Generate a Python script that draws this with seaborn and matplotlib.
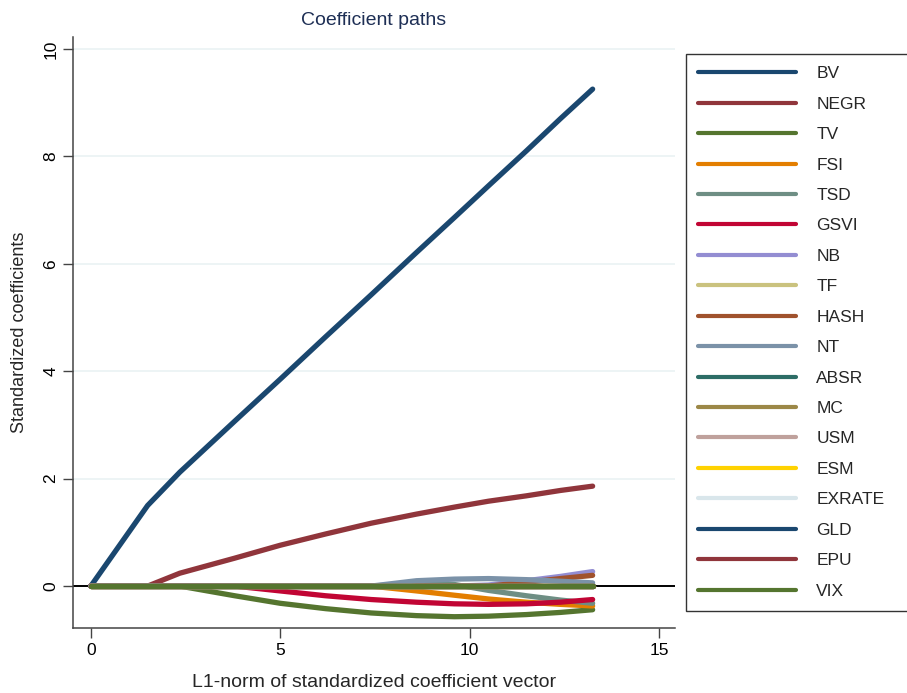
import matplotlib
matplotlib.use("Agg")
import matplotlib.pyplot as plt
import seaborn as sns
import pandas as pd

# L1-norm grid and coefficient values
l1_norm = [0, 1.5, 2.35, 3.8, 5.0, 6.2, 7.4, 8.6, 9.6, 10.5, 11.5, 12.4, 13.25]

names = ["BV", "NEGR", "TV", "FSI", "TSD", "GSVI", "NB", "TF", "HASH",
         "NT", "ABSR", "MC", "USM", "ESM", "EXRATE", "GLD", "EPU", "VIX"]

zero = [0.0] * len(l1_norm)
bv = [0, 1.5, 2.12, 3.07, 3.85, 4.64, 5.42, 6.21, 6.86, 7.45, 8.1, 8.7, 9.25]
negr = [0, 0, 0.24, 0.52, 0.76, 0.97, 1.17, 1.34, 1.47, 1.58, 1.68, 1.78, 1.86]
tv = [0, 0, 0, -0.18, -0.32, -0.42, -0.5, -0.55, -0.57, -0.56, -0.53, -0.49, -0.44]
fsi = [0, 0, 0, 0, 0, 0, 0, -0.09, -0.17, -0.24, -0.3, -0.34, -0.37]
tsd = [0, 0, 0, 0, 0, 0, 0, 0.05, 0.03, -0.08, -0.18, -0.26, -0.32]
gsvi = [0, 0, 0, 0, -0.09, -0.18, -0.25, -0.3, -0.33, -0.34, -0.33, -0.3, -0.25]
nb = [0, 0, 0, 0, 0, 0, 0, 0, 0, 0.02, 0.1, 0.18, 0.27]
hash_ = [0, 0, 0, 0, 0, 0, 0, 0, 0, 0, 0.07, 0.14, 0.2]
nt = [0, 0, 0, 0, 0, 0, 0, 0.1, 0.13, 0.14, 0.12, 0.09, 0.06]

values = {"BV": bv, "NEGR": negr, "TV": tv, "FSI": fsi, "TSD": tsd,
          "GSVI": gsvi, "NB": nb, "HASH": hash_, "NT": nt}

# Stata s2color cycle
colors = ["#1a476f", "#90353b", "#55752f", "#e37e00", "#6e8e84", "#c10534",
          "#938dd2", "#cac27e", "#a0522d", "#7b92a8", "#2d6d66", "#9c8847",
          "#bfa19c", "#ffd200", "#d9e6eb", "#1a476f", "#90353b", "#55752f"]

rows = []
for name in names:
    ys = values.get(name, zero)
    for x, y in zip(l1_norm, ys):
        rows.append({"l1": x, "coef": y, "var": name})
df = pd.DataFrame(rows)

sns.set_style("white")
plt.rcParams["font.family"] = ["Liberation Sans", "DejaVu Sans"]

fig = plt.figure(figsize=(9.07, 6.93), dpi=100)
ax = fig.add_axes([0.0805, 0.0938, 0.6635, 0.8528])

for y in [0, 2, 4, 6, 8, 10]:
    ax.axhline(y, color="#eaf2f3", lw=1.2, zorder=0)
ax.axhline(0, color="black", lw=1.4, zorder=1)

sns.lineplot(data=df, x="l1", y="coef", hue="var", hue_order=names,
             palette=colors, linewidth=3.8, sort=False, estimator=None,
             legend=False, ax=ax, zorder=2)

ax.set_xlim(-0.47, 15.42)
ax.set_ylim(-0.78, 10.22)
ax.set_xticks([0, 5, 10, 15])
ax.set_yticks([0, 2, 4, 6, 8, 10])
ax.tick_params(axis="both", direction="out", length=7, width=1,
               color="#444444", labelsize=12.5, labelcolor="black",
               left=True, bottom=True)
for lab in ax.get_yticklabels():
    lab.set_rotation(90)
    lab.set_va("center")
for side in ["top", "right"]:
    ax.spines[side].set_visible(False)
for side in ["left", "bottom"]:
    ax.spines[side].set_color("#444444")
    ax.spines[side].set_linewidth(1.1)

ax.set_xlabel("L1-norm of standardized coefficient vector", fontsize=14, labelpad=12)
ax.set_ylabel("Standardized coefficients", fontsize=13, labelpad=11)
ax.set_title("Coefficient paths", fontsize=14, color="#1e2f55", pad=9)

handles = [plt.Line2D([], [], color=c, lw=3.0) for c in colors]
leg = fig.legend(handles, names, loc="upper left",
                 bbox_to_anchor=(686 / 907, 1 - 54 / 693, 224 / 907, 0.0),
                 mode="expand", frameon=True, fancybox=False, fontsize=12.5,
                 handlelength=5.65, handletextpad=1.15, labelspacing=0.88,
                 borderpad=0.7, borderaxespad=0)
leg.get_frame().set_edgecolor("black")
leg.get_frame().set_linewidth(1.0)

fig.savefig("out.png", dpi=100)
